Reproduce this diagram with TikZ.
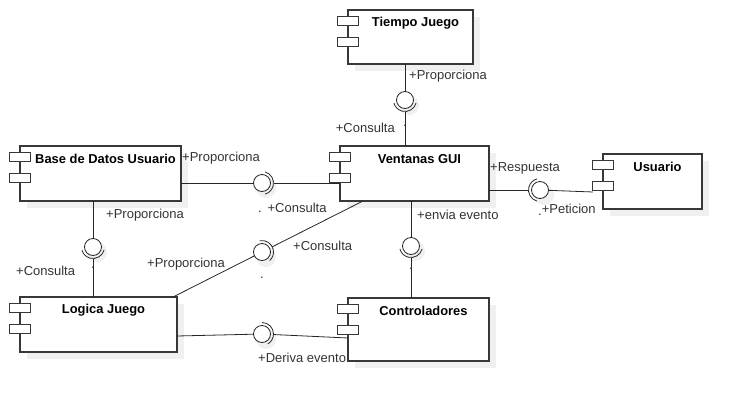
\documentclass[tikz,border=0pt]{standalone}
\usepackage{fontspec}
\setmainfont{Liberation Sans}
\usetikzlibrary{calc}
\begin{document}
\begin{tikzpicture}[x=1pt,y=-1pt,
  box/.style={draw=black!78, line width=1.1pt, fill=white, rectangle, inner sep=0, outer sep=0},
  port/.style={draw=black!78, line width=1.1pt, fill=white, rectangle, minimum width=21pt, minimum height=9pt, inner sep=0},
  shad/.style={fill=black!6, draw=none},
  ball/.style={circle, draw=black!85, line width=0.8pt, fill=white, minimum size=17pt, inner sep=0, outer sep=0},
  wire/.style={draw=black!85, line width=0.8pt},
  sock/.style={draw=black!85, line width=0.8pt},
  lbl/.style={font=\fontsize{13}{15}\selectfont, text=black!80, inner sep=0},
  ttl/.style={font=\bfseries\fontsize{12.9}{15}\selectfont, inner sep=0},
]
\newcommand\comp[6]{%
  \fill[shad] ({#2+7},{#3+7}) rectangle ({#4+7},{#5+7});
  \node[box, minimum width={#4-#2}, minimum height={#5-#3}, anchor=north west] (#1) at (#2,#3) {};
  \node[port] (#1p1) at (#2,{#3+11}) {};
  \node[port] (#1p2) at (#2,{#3+32}) {};
  \node[ttl] (#1t) at ({(#2+#4)/2+5},{#3+13}) {#6};
}
\newcommand\ballsh[3]{%
  \fill[shad] ({#2+4},{#3+5}) circle[radius=10];
  \node[ball] (#1) at (#2,#3) {};
}
\newcommand\sockarc[2]{% ball name, centre angle
  \draw[sock] (#1.center) ++({#2-75}:11.5) arc[start angle={#2-75}, end angle={#2+75}, radius=11.5];
}
\useasboundingbox (0,0) rectangle (742,410);

% components
\comp{tj}{348}{10}{473}{64}{Tiempo Juego}
\comp{bd}{20}{146}{181}{201}{Base de Datos Usuario}
\comp{vg}{340}{146}{489}{201}{Ventanas GUI}
\comp{us}{603}{154}{702}{209}{Usuario}
\comp{lj}{20}{297}{177}{352}{Logica Juego}
\comp{ct}{348}{298}{489}{361}{Controladores}

% 1: Tiempo Juego -> Ventanas GUI
\ballsh{b1}{405}{100}
\sockarc{b1}{90}
\coordinate (s1) at ($(b1.center)+(0,11.5)$);
\draw[wire] (b1 |- tj.south) -- (b1);
\draw[wire] (s1) -- (s1 |- vg.north);
\node[lbl, anchor=west] (l1a) at (409,76) {+Proporciona};
\node[lbl, anchor=east] (l1b) at (395,128) {+Consulta};
\node[lbl] (d1) at (405,126) {.};

% 2: Base de Datos -> Ventanas GUI
\ballsh{b2}{262}{183}
\sockarc{b2}{0}
\coordinate (s2) at ($(b2.center)+(11.5,0)$);
\draw[wire] (b2 -| bd.east) -- (b2);
\draw[wire] (s2) -- (s2 -| vg.west);
\node[lbl, anchor=west] (l2a) at (182,158) {+Proporciona};
\node[lbl, anchor=west] (l2b) at (258,208) {.\ \,+Consulta};

% 3: Base de Datos -> Logica Juego
\ballsh{b3}{93}{247}
\sockarc{b3}{90}
\coordinate (s3) at ($(b3.center)+(0,11.5)$);
\draw[wire] (b3 |- bd.south) -- (b3);
\draw[wire] (s3) -- (s3 |- lj.north);
\node[lbl, anchor=west] (l3a) at (106,215) {+Proporciona};
\node[lbl, anchor=west] (l3b) at (16,271) {+Consulta};
\node[lbl] (d3) at (93,268) {.};

% 4: Logica Juego -> Ventanas GUI (diagonal)
\coordinate (p4a) at (173,297);
\coordinate (p4b) at (363,201);
\ballsh{b4}{262}{252}
\sockarc{b4}{-27}
\coordinate (s4) at ($(b4.center)!11.5pt!(p4b)$);
\draw[wire] (p4a) -- (b4);
\draw[wire] (s4) -- (p4b);
\node[lbl, anchor=west] (l4a) at (147,264) {+Proporciona};
\node[lbl, anchor=west] (l4b) at (293,246) {+Consulta};
\node[lbl] (d4) at (262,278) {.};

% 5: Ventanas GUI -> Controladores
\ballsh{b5}{411}{246}
\sockarc{b5}{90}
\coordinate (s5) at ($(b5.center)+(0,11.5)$);
\draw[wire] (b5 |- vg.south) -- (b5);
\draw[wire] (s5) -- (s5 |- ct.north);
\node[lbl, anchor=west] (l5a) at (417,215) {+envia evento};
\node[lbl] (d5) at (411,269) {.};

% 6: Ventanas GUI <- Usuario
\ballsh{b6}{540}{190}
\sockarc{b6}{180}
\coordinate (s6) at ($(b6.center)+(-11.5,0)$);
\coordinate (p6) at (593,192);
\draw[wire] (s6 -| vg.east) -- (s6);
\draw[wire] (b6) -- (p6);
\node[lbl, anchor=west] (l6a) at (490,168) {+Respuesta};
\node[lbl, anchor=west] (l6b) at (538,210) {.\raisebox{2pt}{+Peticion}};

% 7: Logica Juego -> Controladores
\ballsh{b7}{262}{334}
\sockarc{b7}{-15}
\coordinate (p7a) at (177,336);
\coordinate (p7b) at (348,338);
\coordinate (s7) at ($(b7.center)!11.5pt!(p7b)$);
\draw[wire] (p7a) -- (b7);
\draw[wire] (s7) -- (p7b);
\node[lbl, anchor=west] (l7a) at (258,358) {+Deriva evento};
\end{tikzpicture}
\end{document}
